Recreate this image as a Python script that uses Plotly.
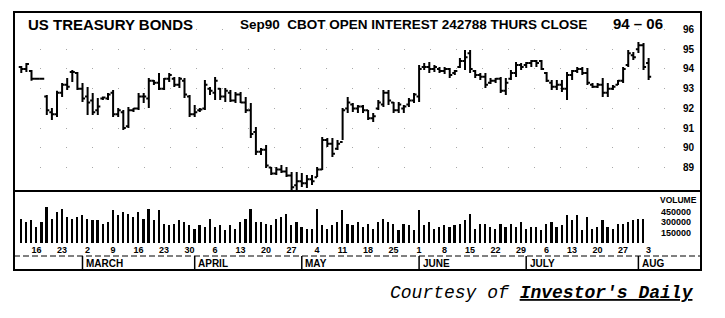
import plotly.graph_objects as go
import pandas as pd

W, H = 725, 318

def px(x):
    return x / W

def py(y):
    return 1 - y / H

# ---- data (Sep90 T-Bond futures, daily) ----
dates = [d.strftime("%Y-%m-%d") for d in pd.bdate_range("1990-02-13", periods=124)]

high = [94.15, 94.30, 93.95, 93.55, 93.55, 92.68, 92.02, 92.90, 93.29, 93.54,
        93.95, 93.85, 93.29, 93.09, 92.78, 92.53, 92.60, 92.78, 92.93, 92.02,
        91.92, 92.07, 92.02, 92.78, 92.78, 93.54, 93.44, 93.80, 93.54, 93.80,
        93.59, 93.59, 93.54, 92.68, 92.17, 92.02, 93.44, 93.09, 93.59, 93.04,
        93.04, 92.93, 92.83, 92.83, 92.58, 92.27, 91.06, 89.99, 90.14, 89.03,
        89.03, 89.13, 89.03, 88.77, 88.77, 88.72, 88.62, 88.62, 89.03, 90.55,
        90.50, 90.50, 90.40, 92.02, 92.58, 92.27, 92.17, 92.17, 91.92, 91.77,
        92.43, 92.93, 92.93, 92.32, 92.32, 92.17, 92.53, 92.78, 94.20, 94.30,
        94.36, 94.20, 94.10, 94.10, 94.05, 93.95, 94.56, 94.96, 94.96, 93.95,
        93.80, 93.80, 93.54, 93.54, 93.59, 93.54, 93.95, 94.36, 94.30, 94.36,
        94.46, 94.46, 94.46, 93.85, 93.44, 93.44, 93.44, 93.85, 93.95, 94.10,
        94.10, 94.05, 93.29, 93.29, 93.54, 93.29, 93.19, 93.44, 94.10, 94.96,
        94.86, 95.37, 95.32, 94.56]

low = [93.80, 93.85, 93.40, 93.45, 93.45, 91.66, 91.41, 91.56, 92.58, 92.93,
       93.34, 92.93, 92.32, 91.66, 91.66, 91.66, 92.43, 92.43, 91.56, 91.56,
       90.90, 91.00, 91.82, 91.92, 92.27, 92.02, 93.19, 92.93, 92.93, 93.34,
       93.09, 93.04, 92.53, 91.56, 91.56, 91.82, 91.92, 92.68, 92.43, 92.43,
       92.32, 92.32, 92.27, 92.27, 91.77, 90.50, 89.63, 89.63, 88.97, 88.62,
       88.62, 88.72, 88.52, 87.76, 87.86, 88.01, 87.96, 88.11, 88.52, 88.87,
       90.04, 89.53, 89.89, 90.40, 91.77, 91.82, 91.77, 91.77, 91.41, 91.31,
       91.92, 92.07, 92.17, 91.77, 91.77, 91.77, 92.07, 92.27, 92.32, 93.95,
       93.80, 93.85, 93.80, 93.75, 93.54, 93.70, 94.05, 93.95, 93.80, 93.54,
       93.44, 93.04, 93.24, 93.29, 92.78, 92.68, 93.44, 93.59, 93.95, 94.05,
       94.10, 94.10, 93.95, 93.34, 92.93, 92.93, 92.83, 92.43, 93.44, 93.80,
       93.70, 93.19, 93.04, 93.04, 92.58, 92.58, 92.93, 93.19, 93.29, 94.10,
       94.46, 94.81, 93.95, 93.44]

open_ = [94.10, 94.00, 93.90, 93.50, 93.50, 92.60, 91.80, 91.70, 92.80, 93.20,
         93.85, 93.80, 93.00, 92.60, 92.40, 91.90, 92.50, 92.50, 92.80, 91.70,
         91.80, 91.10, 91.90, 92.00, 92.60, 92.50, 93.40, 93.30, 93.00, 93.50,
         93.50, 93.20, 93.40, 92.60, 91.70, 91.90, 92.00, 93.00, 92.80, 93.00,
         92.60, 92.80, 92.40, 92.70, 92.30, 91.90, 90.80, 89.80, 89.90, 89.00,
         88.70, 88.90, 88.80, 88.60, 88.10, 88.30, 88.20, 88.40, 88.50, 88.90,
         90.40, 90.20, 89.95, 90.30, 92.00, 92.20, 92.00, 92.10, 91.90, 91.50,
         92.00, 92.20, 92.80, 92.30, 91.90, 92.00, 92.20, 92.40, 92.60, 94.10,
         94.10, 94.00, 94.00, 93.90, 94.00, 93.80, 94.10, 94.40, 94.80, 93.90,
         93.70, 93.60, 93.30, 93.40, 93.50, 92.90, 93.50, 93.80, 94.20, 94.20,
         94.30, 94.40, 94.40, 93.80, 93.30, 93.10, 93.20, 93.00, 93.70, 93.90,
         94.00, 93.80, 93.20, 93.10, 93.20, 92.80, 93.00, 93.20, 93.40, 94.20,
         94.70, 95.00, 95.20, 94.30]

close = [94.00, 94.25, 93.50, 93.50, 93.50, 91.90, 91.70, 92.80, 93.20, 93.10,
         93.85, 93.00, 92.50, 92.30, 91.80, 92.10, 92.55, 92.70, 91.70, 91.90,
         91.00, 91.90, 92.00, 92.60, 92.60, 93.40, 93.30, 93.00, 93.50, 93.70,
         93.20, 93.50, 92.70, 91.70, 91.80, 91.95, 93.20, 92.90, 93.40, 92.60,
         92.90, 92.40, 92.70, 92.30, 91.90, 90.70, 89.80, 89.90, 89.10, 88.70,
         88.90, 88.80, 88.60, 88.00, 88.30, 88.20, 88.40, 88.30, 88.90, 90.40,
         90.20, 89.70, 90.20, 91.90, 92.30, 92.00, 92.10, 91.90, 91.50, 91.60,
         92.30, 92.80, 92.40, 91.90, 92.20, 92.10, 92.40, 92.70, 94.00, 94.10,
         94.00, 94.10, 93.90, 94.00, 93.70, 93.90, 94.40, 94.60, 94.00, 93.70,
         93.60, 93.20, 93.40, 93.50, 92.90, 93.30, 93.80, 94.20, 94.10, 94.30,
         94.40, 94.30, 94.00, 93.40, 93.10, 93.20, 93.00, 93.70, 93.90, 94.00,
         93.80, 93.30, 93.10, 93.20, 92.80, 93.00, 93.10, 93.40, 94.00, 94.80,
         94.60, 95.20, 94.10, 93.60]

volume = [348000, 300000, 324000, 230000, 300000, 516000, 348000, 443000, 481000, 372000,
          348000, 372000, 396000, 348000, 324000, 324000, 277000, 300000, 467000, 396000,
          443000, 420000, 372000, 443000, 348000, 491000, 324000, 467000, 277000, 253000,
          277000, 324000, 300000, 253000, 205000, 253000, 229000, 348000, 229000, 253000,
          181000, 253000, 205000, 300000, 348000, 481000, 300000, 300000, 277000, 253000,
          348000, 372000, 420000, 253000, 300000, 229000, 205000, 205000, 491000, 253000,
          205000, 253000, 300000, 467000, 277000, 253000, 300000, 229000, 277000, 205000,
          300000, 348000, 300000, 277000, 181000, 277000, 253000, 181000, 467000, 253000,
          300000, 205000, 229000, 253000, 229000, 253000, 277000, 324000, 420000, 205000,
          277000, 277000, 229000, 205000, 277000, 229000, 277000, 229000, 300000, 205000,
          229000, 229000, 181000, 277000, 300000, 229000, 253000, 396000, 324000, 396000,
          181000, 372000, 205000, 229000, 324000, 229000, 205000, 277000, 277000, 300000,
          324000, 348000, 348000, None]

price_ticks = [89, 90, 91, 92, 93, 94, 95, 96]
vol_ticks = [150000, 300000, 450000]
vol_tick_text = ["150000", "300000", "450000"]
month_names = ["MARCH", "APRIL", "MAY", "JUNE", "JULY", "AUG"]

# Friday day labels
fridays = [d for d in dates if pd.Timestamp(d).weekday() == 4]
friday_text = [str(pd.Timestamp(d).day) for d in fridays]

# first trading day of each month (Mar..Aug)
month_starts = []
seen = set()
for i, d in enumerate(dates):
    m = d[:7]
    if m not in seen:
        seen.add(m)
        if i > 0:
            month_starts.append(i)

BOLD = dict(family="Liberation Sans, Arial, sans-serif", color="black", weight="bold")

fig = go.Figure()
fig.add_trace(go.Ohlc(
    x=dates, open=open_, high=high, low=low, close=close,
    xaxis="x", yaxis="y",
    increasing=dict(line=dict(color="black", width=2)),
    decreasing=dict(line=dict(color="black", width=2)),
    tickwidth=0.5, showlegend=False, hoverinfo="skip"))
fig.add_trace(go.Bar(
    x=dates, y=volume, xaxis="x2", yaxis="y2",
    marker=dict(color="black", line=dict(width=0)),
    width=0.33, showlegend=False, hoverinfo="skip"))

fig.update_layout(
    width=W, height=H,
    margin=dict(l=0, r=0, t=0, b=0),
    paper_bgcolor="white", plot_bgcolor="white",
    showlegend=False,
    xaxis=dict(type="category", categoryorder="array", categoryarray=dates,
               domain=[px(14), px(678)], range=[-1.43, 128.76],
               showticklabels=False, showgrid=False, zeroline=False,
               showline=False, ticks="", anchor="y",
               rangeslider=dict(visible=False)),
    yaxis=dict(domain=[py(191), py(12)], range=[87.807, 96.893],
               side="right", anchor="x", tickvals=price_ticks,
               ticks="", ticklabelstandoff=4,
               tickfont=dict(size=10, **BOLD),
               showgrid=True, gridcolor="#a8a8a8", gridwidth=1,
               griddash="1px,25px", zeroline=False, showline=False),
    xaxis2=dict(type="category", categoryorder="array", categoryarray=dates,
                domain=[px(14), px(657)], range=[-1.43, 124.65],
                tickmode="array", tickvals=fridays, ticktext=friday_text,
                tickfont=dict(size=9, **BOLD), ticks="", ticklabelstandoff=0,
                showgrid=False, zeroline=False, showline=False, anchor="y2"),
    yaxis2=dict(domain=[py(243), py(191)], range=[0, 742857],
                side="right", anchor="x2", tickvals=vol_ticks,
                ticktext=vol_tick_text, ticks="", ticklabelstandoff=3,
                tickfont=dict(size=9, **BOLD),
                showgrid=False, zeroline=False, showline=False),
    bargap=0,
)

shapes = [
    dict(type="rect", xref="paper", yref="paper", x0=px(14), x1=px(701),
         y0=py(270), y1=py(12), line=dict(color="black", width=2)),
    dict(type="line", xref="paper", yref="paper", x0=px(14), x1=px(701),
         y0=py(191), y1=py(191), line=dict(color="black", width=2)),
    dict(type="line", xref="paper", yref="paper", x0=px(14), x1=px(701),
         y0=py(256), y1=py(256), line=dict(color="black", width=1, dash="6px,3px")),
]
annotations = []
for idx, name in zip(month_starts, month_names):
    shapes.append(dict(type="line", xref="x2", yref="paper", x0=idx, x1=idx,
                       y0=py(270), y1=py(256), line=dict(color="black", width=1.5)))
    annotations.append(dict(xref="x2", yref="paper", x=idx + 0.3, y=py(263.5),
                            text=name, showarrow=False, xanchor="left",
                            yanchor="middle", font=dict(size=10, **BOLD)))

annotations += [
    dict(xref="paper", yref="paper", x=px(26), y=py(25), text="US TREASURY BONDS",
         showarrow=False, xanchor="left", yanchor="middle", font=dict(size=15, **BOLD)),
    dict(xref="paper", yref="paper", x=px(413), y=py(25),
         text="Sep90  CBOT OPEN INTEREST 242788 THURS CLOSE",
         showarrow=False, xanchor="center", yanchor="middle", font=dict(size=13.5, **BOLD)),
    dict(xref="paper", yref="paper", x=px(638), y=py(24), text="94 \u2013 06",
         showarrow=False, xanchor="center", yanchor="middle", font=dict(size=15, **BOLD)),
    dict(xref="paper", yref="paper", x=px(678), y=py(199.5), text="VOLUME",
         showarrow=False, xanchor="center", yanchor="middle", font=dict(size=8.5, **BOLD)),
    dict(xref="paper", yref="paper", x=px(542), y=py(293),
         text="<i>Courtesy of <b><u>Investor's Daily</u></b></i>",
         showarrow=False, xanchor="center", yanchor="middle",
         font=dict(size=18, family="Liberation Mono, Courier New, monospace", color="black")),
]

fig.update_layout(shapes=shapes, annotations=annotations)
fig.write_html("out.html", config=dict(displayModeBar=False))
